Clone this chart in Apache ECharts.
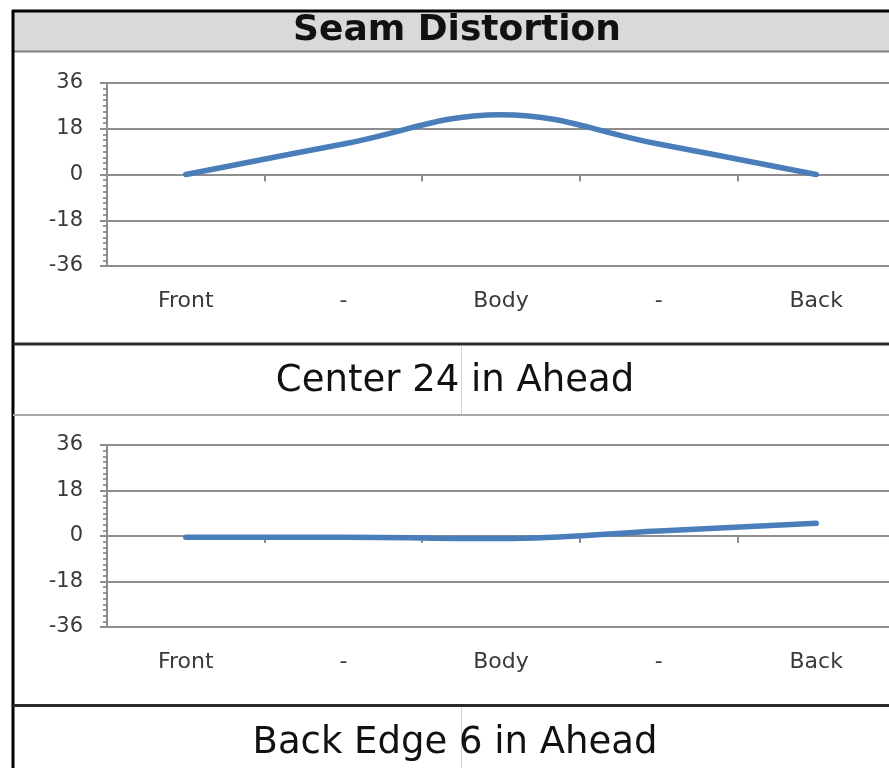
<!DOCTYPE html>
<html>
<head>
<meta charset="utf-8">
<script src="https://cdn.jsdelivr.net/npm/echarts@6/dist/echarts.min.js"></script>
<style>
  html, body { margin: 0; padding: 0; background: #ffffff; }
  #chart { width: 889px; height: 768px; }
</style>
</head>
<body>
<div id="chart"></div>
<script>
// chart data
const categories = ['Front', '-', 'Body', '-', 'Back']
const yMin = -36
const yMax = 36
const yStep = 18
const centerValues = [0, 12, 23.5, 12, 0] // Center 24 in Ahead
const backEdgeValues = [-0.5, -0.5, -1, 2, 5] // Back Edge 6 in Ahead

const titleText = 'Seam Distortion'
const captionTop = 'Center 24 in Ahead'
const captionBottom = 'Back Edge 6 in Ahead'

const GRID_COLOR = '#8e8e8e'
const LABEL_COLOR = '#3a3a3a'
const LINE_COLOR = '#4a7ebb'
const FONT = 'DejaVu Sans'

const myChart = echarts.init(document.getElementById('chart'), null, { renderer: 'canvas' })

function yAxisOf(gridIndex) {
    return {
        type: 'value',
        gridIndex: gridIndex,
        min: yMin,
        max: yMax,
        interval: yStep,
        axisLine: { show: true, lineStyle: { color: GRID_COLOR, width: 2 } },
        axisTick: { show: true, length: 7, lineStyle: { color: GRID_COLOR, width: 2 } },
        minorTick: { show: true, splitNumber: 8, length: 4, lineStyle: { color: '#7a7a7a', width: 1.5 } },
        axisLabel: { color: LABEL_COLOR, fontFamily: FONT, fontSize: 21, margin: 24 },
        splitLine: { show: true, lineStyle: { color: GRID_COLOR, width: 2 } },
    }
}

// labels sit at the bottom of the plot, the axis line + ticks sit on zero
function labelAxisOf(gridIndex) {
    return {
        type: 'category',
        gridIndex: gridIndex,
        data: categories,
        boundaryGap: true,
        position: 'bottom',
        axisLine: { show: false, onZero: false },
        axisTick: { show: false },
        axisLabel: { color: LABEL_COLOR, fontFamily: FONT, fontSize: 22, margin: 24, interval: 0 },
        splitLine: { show: false },
    }
}
function zeroAxisOf(gridIndex) {
    return {
        type: 'category',
        gridIndex: gridIndex,
        data: categories,
        boundaryGap: true,
        position: 'bottom',
        axisLine: { show: true, onZero: true, lineStyle: { color: GRID_COLOR, width: 2 } },
        axisTick: { show: true, length: 7, interval: 0, lineStyle: { color: GRID_COLOR, width: 2 } },
        axisLabel: { show: false },
        splitLine: { show: false },
    }
}

function lineSeries(data, xIdx, yIdx) {
    return {
        type: 'line',
        xAxisIndex: xIdx,
        yAxisIndex: yIdx,
        data: data,
        smooth: 0.4,
        showSymbol: false,
        symbol: 'none',
        lineStyle: { color: LINE_COLOR, width: 5.5, cap: 'round', join: 'round' },
        z: 5,
    }
}

function hLine(y, x1, x2, color, width) {
    return { type: 'line', shape: { x1: x1, y1: y, x2: x2, y2: y }, style: { stroke: color, lineWidth: width }, z: 100 }
}
function vLine(x, y1, y2, color, width) {
    return { type: 'line', shape: { x1: x, y1: y1, x2: x, y2: y2 }, style: { stroke: color, lineWidth: width }, z: 100 }
}
function textAt(text, x, y, size, weight) {
    return {
        type: 'text', x: x, y: y, z: 101,
        style: { text: text, fill: '#111111', fontFamily: FONT, fontSize: size, fontWeight: weight, align: 'center', verticalAlign: 'middle' },
    }
}

const option = {
    backgroundColor: '#ffffff',
    animation: false,
    grid: [
        { left: 107, top: 83, width: 788, height: 183, containLabel: false, outerBoundsMode: 'none' },
        { left: 107, top: 445, width: 788, height: 182, containLabel: false, outerBoundsMode: 'none' },
    ],
    xAxis: [labelAxisOf(0), zeroAxisOf(0), labelAxisOf(1), zeroAxisOf(1)],
    yAxis: [yAxisOf(0), yAxisOf(1)],
    series: [
        lineSeries(centerValues, 0, 0),
        lineSeries(backEdgeValues, 2, 1),
    ],
    graphic: [
        // header band
        { type: 'rect', shape: { x: 13, y: 11, width: 876, height: 40 }, style: { fill: '#d9d9d9' }, z: 99 },
        hLine(51.5, 13, 889, '#808080', 2),
        hLine(11, 12, 889, '#000000', 3),
        vLine(13, 10, 768, '#000000', 3),
        textAt(titleText, 457, 31, 36, 'bold'),
        // first caption cell
        hLine(344, 13, 889, '#2a2a2a', 3),
        vLine(461.5, 346, 414, '#d4d4d4', 1),
        hLine(415, 13, 889, '#a8a8a8', 2),
        textAt(captionTop, 455, 381, 37, 'normal'),
        // second caption cell
        hLine(705.5, 13, 889, '#2a2a2a', 3),
        vLine(461.5, 707, 768, '#d4d4d4', 1),
        textAt(captionBottom, 455, 743, 37, 'normal'),
    ],
}

myChart.setOption(option)
</script>
</body>
</html>
